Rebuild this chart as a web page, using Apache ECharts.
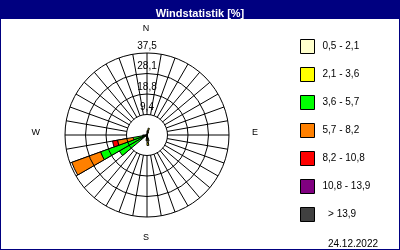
<!DOCTYPE html>
<html><head><meta charset="utf-8">
<script src="https://cdn.jsdelivr.net/npm/echarts@6/dist/echarts.min.js"></script>
<style>html,body{margin:0;padding:0;background:#fff}#c{width:400px;height:250px}</style>
</head><body><div id="c"></div>
<script>
// Direction sectors (bearing start, 10° each)
const directions = ['0','10','20','30','40','50','60','70','80','90','100','110','120','130','140','150','160','170','180','190','200','210','220','230','240','250','260','270','280','290','300','310','320','330','340','350'];
const compassLabels = ['N','E','S','W'];
const radiusTickLabels = ['', '9,4', '18,8', '28,1', '37,5'];
const speedClasses = ['0,5 - 2,1','2,1 - 3,6','3,6 - 5,7','5,7 - 8,2','8,2 - 10,8','10,8 - 13,9','  > 13,9'];
const classColors = ['#FFFFCC','#FFFF00','#00FF00','#FF8000','#FF0000','#800080','#404040'];
//                     0   1   2   3 4 5 6 7 8 9 10 11 12 13 14 15  16  17  18  19  20 21 22  23   24   25   26 27 28 29 30 31 32 33 34 35
const s1 = [0.8,1.2,0.6,0,0,0,0,0,0,0,0, 0, 0, 0, 0, 0.6,2.0,3.5,2.0,0.5,0, 0, 0, 0.5, 0.6, 0.5, 0.4,0,0,0,0,0,0,0,0,0];
const s2 = [1.2,2.0,0.8,0,0,0,0,0,0,0,0, 0, 0, 0, 0, 0,  0.8,1.3,0.6,0,  0, 0, 0, 0.8, 1.2, 0.8, 0.6,0,0,0,0,0,0,0,0,0];
const s3 = [0,  0,  0,  0,0,0,0,0,0,0,0, 0, 0, 0, 0, 0,  0,  0,  0,  0,  0, 0, 0, 13.3,20.8,5.1, 1.0,0,0,0,0,0,0,0,0,0];
const s4 = [0,  0,  0,  0,0,0,0,0,0,0,0, 0, 0, 0, 0, 0,  0,  0,  0,  0,  0, 0, 0, 0,   14.0,7.3, 0,  0,0,0,0,0,0,0,0,0];
const s5 = [0,  0,  0,  0,0,0,0,0,0,0,0, 0, 0, 0, 0, 0,  0,  0,  0,  0,  0, 0, 0, 0,   0,   2.3, 0,  0,0,0,0,0,0,0,0,0];
const s6 = new Array(36).fill(0);
const s7 = new Array(36).fill(0);
const seriesValues = [s1,s2,s3,s4,s5,s6,s7];
const radiusMax = 37.5, radiusStep = 9.375;
const dateText = '24.12.2022';

const chart = echarts.init(document.getElementById('c'), null, {renderer:'canvas'});
const FONT = 'Liberation Sans';
const C = [147,135], R = 82;
chart.setOption({
  backgroundColor:'#fff',
  animation:false,
  textStyle:{fontFamily:FONT},
  title:[
    {text:'Windstatistik [%]', left:'center', top:3, textStyle:{color:'#fff', fontSize:11, fontWeight:'bold', fontFamily:FONT}},
    {text:dateText, right:17, top:234, textStyle:{color:'#000', fontSize:10, fontWeight:'normal', fontFamily:FONT}}
  ],
  graphic:[
    {type:'rect', z:-10, shape:{x:0,y:0,width:400,height:19}, style:{fill:'#000080'}},
    {type:'rect', z:100, shape:{x:0,y:0,width:400,height:250}, style:{fill:null, stroke:'#000080', lineWidth:2}}
  ],
  legend:{
    orient:'vertical', left:295, top:34, itemWidth:14, itemHeight:14, itemGap:13,
    icon:'rect',
    textStyle:{fontSize:10, color:'#000', fontFamily:FONT, padding:[0,0,0,3]},
    itemStyle:{borderColor:'#000', borderWidth:1},
    data:speedClasses
  },
  polar:[
    {center:C, radius:[0,R]},
    {center:C, radius:[R*radiusStep/radiusMax, R]},
    {center:[146,133], radius:[0,R]}
  ],
  angleAxis:[
    {polarIndex:0, type:'category', data:directions, startAngle:90, clockwise:true, boundaryGap:true,
     axisLine:{show:false}, axisTick:{show:false}, axisLabel:{show:false}, splitLine:{show:false}},
    {polarIndex:1, type:'category', data:directions, startAngle:90, clockwise:true, boundaryGap:true,
     axisLine:{show:false}, axisTick:{show:false, interval:0}, axisLabel:{show:false, interval:0},
     splitLine:{show:true, interval:0, lineStyle:{color:'#000', width:1}}},
    {polarIndex:2, type:'category', data:compassLabels, startAngle:90, clockwise:true, boundaryGap:false,
     axisLine:{show:false}, axisTick:{show:false}, splitLine:{show:false},
     axisLabel:{show:true, interval:0, margin:18, fontSize:9, color:'#000', fontFamily:FONT,
       formatter:(v)=> (v==='E'||v==='W') ? '{h|'+v+'}' : v,
       rich:{h:{padding:[0,6,0,6], fontSize:9, color:'#000', fontFamily:FONT}}}}
  ],
  radiusAxis:[
    {polarIndex:0, type:'value', min:0, max:radiusMax, interval:radiusStep,
     axisLine:{show:false}, axisTick:{show:false},
     splitLine:{show:true, lineStyle:{color:'#000', width:1}},
     axisLabel:{show:true, margin:0, align:'center', verticalAlign:'bottom', padding:[0,0,2,0],
       fontSize:10, color:'#000', fontFamily:FONT,
       formatter:(v)=>radiusTickLabels[Math.round(v/radiusStep)]}, z:5},
    {polarIndex:1, type:'value', show:false, min:0, max:1},
    {polarIndex:2, type:'value', show:false, min:0, max:1}
  ],
  series: seriesValues.map((vals,k)=>({
    name:speedClasses[k], type:'bar', coordinateSystem:'polar', polarIndex:0, stack:'w',
    barCategoryGap:'0%',
    itemStyle:{color:classColors[k], borderColor:'#000', borderWidth:1},
    data: vals.map(v=> v>0 ? v : null)
  }))
});
</script></body></html>
